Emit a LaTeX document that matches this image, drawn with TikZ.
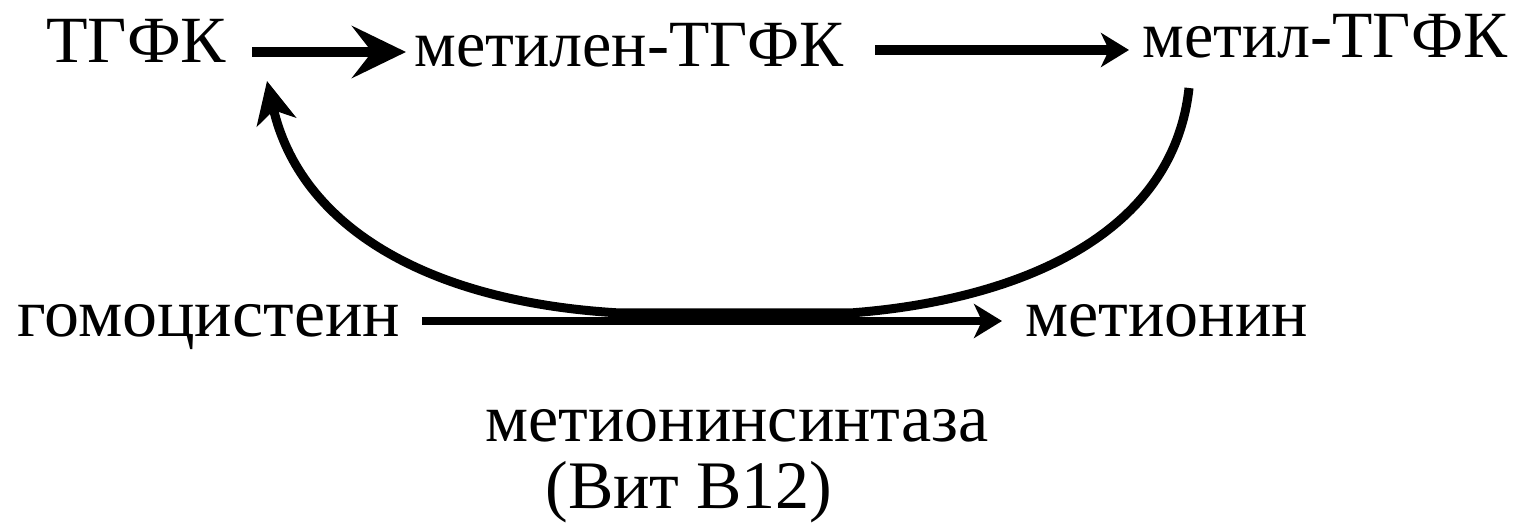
\documentclass[tikz,border=0pt]{standalone}
\usepackage{fontspec}
\setmainfont{Liberation Serif}
\usetikzlibrary{arrows.meta}
\begin{document}
\begin{tikzpicture}[x=0.5pt,y=-0.5pt,
  lbl/.style={inner sep=0pt,anchor=base west,font=\fontsize{33}{40}\selectfont},
  lowlbl/.style={inner sep=0pt,anchor=base west,font=\fontsize{34}{40}\selectfont},
  conn/.style={line width=5pt},
  bighead/.style={-{Stealth[length=27pt,width=26pt,inset=10pt]}},
  smallhead/.style={-{Stealth[length=14pt,width=17pt,inset=4pt]}},
  curvehead/.style={-{Stealth[length=21pt,width=20pt,inset=6pt]}}]
\useasboundingbox (0,0) rectangle (1524,528);
\node[lbl] (ttfk) at (46,63) {\scalebox{1.03}[1]{ТГФК}};
\node[lbl] (mttfk) at (414,67) {метилен-ТГФК};
\node[lbl] (metttfk) at (1142,58) {метил-ТГФК};
\node[lowlbl] (homo) at (17,337) {\scalebox{1.03}[1]{гомоцистеин}};
\node[lowlbl] (met) at (1025,337) {метионин};
\node[lowlbl] (syn) at (485,442) {метионинсинтаза};
\node[lowlbl] (vit) at (545,509) {(Вит В12)};
\coordinate (a1s) at (252,52);
\coordinate (a1e) at (406,52);
\coordinate (a2s) at (875,50);
\coordinate (a2e) at (1129,50);
\coordinate (bs) at (422,321);
\coordinate (be) at (1002,321);
\coordinate (cs) at (1189,88);
\coordinate (m1) at (850,313);
\coordinate (m2) at (620,313);
\coordinate (ce) at (267,81);
\draw[conn,bighead] (a1s) -- (a1e);
\draw[conn,smallhead] (a2s) -- (a2e);
\draw[conn,line width=4pt,smallhead] (bs) -- (be);
\draw[conn,line width=4.5pt,curvehead] (cs) .. controls (1172,245) and (1000,302) .. (m1) -- (m2) .. controls (425,302) and (300,225) .. (ce);
\end{tikzpicture}
\end{document}
